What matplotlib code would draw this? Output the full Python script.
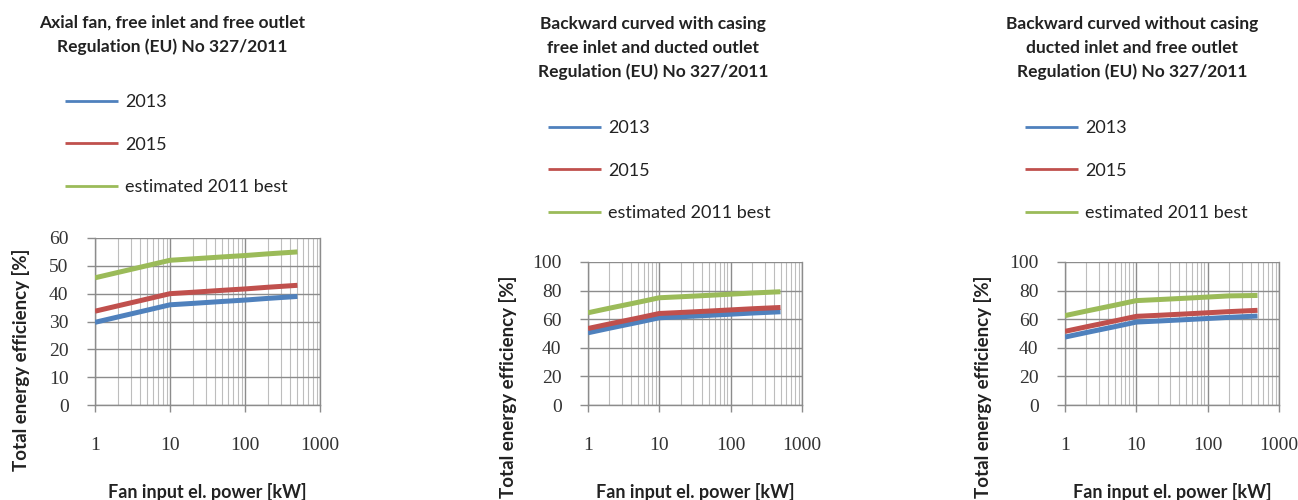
import matplotlib
matplotlib.use("Agg")
import matplotlib.pyplot as plt
from matplotlib.ticker import LogLocator, FixedLocator, NullFormatter

# Fan input electrical power [kW]
power_kw = [1, 2, 5, 10, 20, 50, 100, 200, 500]

# Axial fan, free inlet and free outlet
axial_2013 = [29.7, 31.6, 34.1, 36.0, 36.5, 37.2, 37.7, 38.3, 39.0]
axial_2015 = [33.7, 35.6, 38.1, 40.0, 40.5, 41.2, 41.7, 42.3, 43.0]
axial_best = [45.7, 47.6, 50.1, 52.0, 52.5, 53.2, 53.7, 54.3, 55.0]

# Backward curved with casing, free inlet and ducted outlet
bc_cased_2013 = [50.5, 53.7, 57.8, 61.0, 61.7, 62.7, 63.5, 64.3, 65.2]
bc_cased_2015 = [53.5, 56.7, 60.8, 64.0, 64.7, 65.7, 66.5, 67.3, 68.2]
bc_cased_best = [64.5, 67.7, 71.8, 75.0, 75.7, 76.7, 77.5, 78.3, 79.2]

# Backward curved without casing, ducted inlet and free outlet
bc_open_2013 = [47.5, 50.7, 54.8, 58.0, 58.7, 59.7, 60.5, 61.3, 62.2]
bc_open_2015 = [51.5, 54.7, 58.8, 62.0, 62.7, 63.7, 64.5, 65.3, 66.2]
bc_open_best = [62.5, 65.7, 69.8, 73.0, 73.7, 74.7, 75.5, 76.3, 76.6]

series_labels = ["2013", "2015", "estimated 2011 best"]
series_colors = ["#4f81bd", "#c0504d", "#9bbb59"]

titles = [
    "Axial fan, free inlet and free outlet\nRegulation (EU) No 327/2011",
    "Backward curved with casing\nfree inlet and ducted outlet\nRegulation (EU) No 327/2011",
    "Backward curved without casing\nducted inlet and free outlet\nRegulation (EU) No 327/2011",
]
panel_data = [
    [axial_2013, axial_2015, axial_best],
    [bc_cased_2013, bc_cased_2015, bc_cased_best],
    [bc_open_2013, bc_open_2015, bc_open_best],
]
y_tops = [60, 100, 100]
y_steps = [10, 20, 20]
x_ticks = [1, 10, 100, 1000]
x_tick_labels = ["1", "10", "100", "1000"]
y_label = "Total energy efficiency [%]"
x_label = "Fan input el. power [kW]"

W, H = 1298, 500
fig = plt.figure(figsize=(W / 100, H / 100), dpi=100)
fig.patch.set_facecolor("white")

SANS = ["Lato", "DejaVu Sans"]
SERIF = ["Liberation Serif", "DejaVu Serif"]


def fx(px):
    return px / W


def fy(py):
    return 1 - py / H


# pixel layout of each panel: axes box, title centre, legend anchor, label centres
layout = [
    dict(box=(95, 320, 238, 405), title=(172, 35), legend=(65, 94), ylab=(21, 360)),
    dict(box=(588, 802, 262, 405), title=(653, 48), legend=(548, 120), ylab=(508, 387)),
    dict(box=(1065, 1279, 262, 405), title=(1132, 48), legend=(1025, 120), ylab=(983, 387)),
]

for i, lay in enumerate(layout):
    l, r, t, b = lay["box"]
    ax = fig.add_axes([fx(l), fy(b), fx(r - l), (b - t) / H])
    ax.set_xscale("log")
    ax.set_xlim(1, 1000)
    ax.set_ylim(0, y_tops[i])

    handles = []
    for vals, lab, col in zip(panel_data[i], series_labels, series_colors):
        (h,) = ax.plot(power_kw, vals, color=col, lw=3.6, label=lab,
                       solid_capstyle="butt", zorder=3)
        handles.append(h)

    ax.xaxis.set_major_locator(FixedLocator(x_ticks))
    ax.set_xticklabels(x_tick_labels)
    ax.xaxis.set_minor_locator(LogLocator(base=10, subs=range(2, 10)))
    ax.xaxis.set_minor_formatter(NullFormatter())
    ax.set_yticks(range(0, y_tops[i] + 1, y_steps[i]))

    ax.grid(True, which="major", color="#8c8c8c", lw=1.0)
    ax.grid(True, which="minor", axis="x", color="#bdbdbd", lw=0.8)
    ax.set_axisbelow(True)
    for s in ax.spines.values():
        s.set_color("#8c8c8c")
        s.set_linewidth(1.0)
    ax.spines["top"].set_visible(False)

    ax.tick_params(axis="y", which="major", direction="out", length=6,
                   width=1, color="#8c8c8c", pad=13)
    ax.tick_params(axis="x", which="major", direction="out", length=5,
                   width=1, color="#8c8c8c", pad=18)
    ax.tick_params(axis="x", which="minor", length=0)
    for lbl in ax.get_xticklabels() + ax.get_yticklabels():
        lbl.set_fontfamily(SERIF)
        lbl.set_fontsize(14)
        lbl.set_color("#333333")

    ax.set_xlabel(x_label, fontsize=13, fontweight="bold", family=SANS,
                  color="#222222")
    ax.xaxis.set_label_coords(fx((l + r) / 2), fy(492), transform=fig.transFigure)
    ax.set_ylabel(y_label, fontsize=13.5, fontweight="bold", family=SANS,
                  color="#222222")
    yx, yy = lay["ylab"]
    ax.yaxis.set_label_coords(fx(yx), fy(yy), transform=fig.transFigure)
    ax.yaxis.label.set_va("center")
    ax.xaxis.label.set_va("center")

    tx, ty = lay["title"]
    fig.text(fx(tx), fy(ty), titles[i], ha="center", va="center",
             fontsize=12.5, fontweight="bold", family=SANS, color="#222222",
             linespacing=1.55)

    lx, ly = lay["legend"]
    ax.legend(handles=handles, loc="upper left",
              bbox_to_anchor=(fx(lx), fy(ly)), bbox_transform=fig.transFigure,
              frameon=False, borderpad=0, borderaxespad=0,
              handlelength=2.95, handletextpad=0.4, labelspacing=1.47,
              prop=dict(family=SANS, size=13))
    for txt in ax.get_legend().get_texts():
        txt.set_color("#222222")
    for ln in ax.get_legend().get_lines():
        ln.set_linewidth(2.0)

fig.savefig("out.png", dpi=100, facecolor="white")
